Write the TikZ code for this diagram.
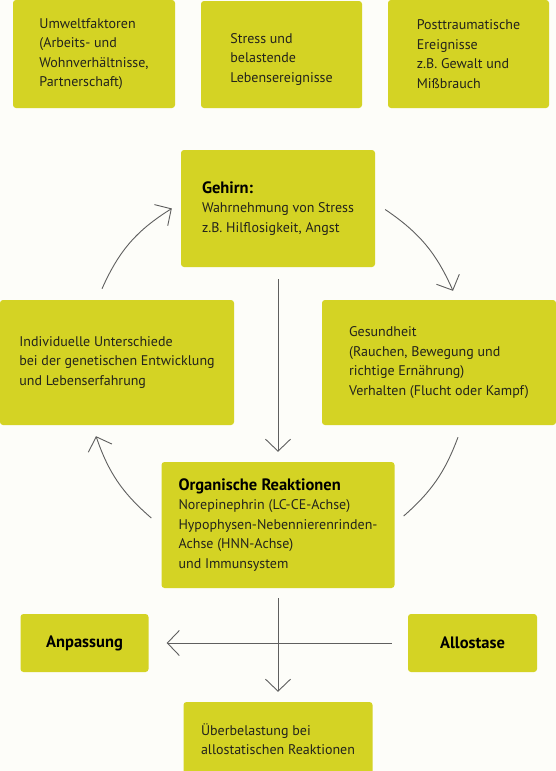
\documentclass[tikz,border=0pt]{standalone}
\usepackage{fontspec}
\setmainfont{PT Sans}
\usetikzlibrary{arrows.meta}

\definecolor{gelbgruen}{RGB}{212,211,36}
\definecolor{schrift}{RGB}{35,35,28}
\definecolor{linie}{RGB}{95,95,95}
\definecolor{papier}{RGB}{253,253,249}

\newcommand{\kopf}[1]{{\fontsize{16.5}{19}\selectfont\bfseries\color{black}#1}}

\begin{document}
\begin{tikzpicture}[x=1pt, y=-1pt,
    every node/.style={font=\fontsize{14}{19.5}\selectfont, text=schrift},
    kasten/.style={fill=gelbgruen, rounded corners=3pt, align=left, inner sep=0pt},
    pfeil/.style={draw=linie, line width=0.9pt, -{Straight Barb[length=12pt,width=25pt]}},
    bogen/.style={draw=linie, line width=0.9pt}]
    \path[use as bounding box, fill=papier] (0,0) rectangle (556,771);

    % Obere Reihe
    \node[kasten, minimum width=162pt, minimum height=108pt] (umwelt) at (94,54)
        {Umweltfaktoren\\(Arbeits- und\\Wohnverhältnisse,\\Partnerschaft)};
    \node[kasten, minimum width=161pt, minimum height=107pt] (stress) at (281.5,54.5)
        {\mbox{}\\Stress und\\belastende\\Lebensereignisse};
    \node[kasten, minimum width=161pt, minimum height=108pt] (trauma) at (468.5,54)
        {Posttraumatische\\Ereignisse\\z.B. Gewalt und\\Mißbrauch};

    % Kreislauf
    \node[kasten, minimum width=194pt, minimum height=117pt] (gehirn) at (278,208.5)
        {\kopf{Gehirn:}\\Wahrnehmung von Stress\\z.B. Hilflosigkeit, Angst};
    \node[kasten, minimum width=234pt, minimum height=125pt] (indiv) at (117,362.5)
        {Individuelle Unterschiede\\bei der genetischen Entwicklung\\und Lebenserfahrung};
    \node[kasten, minimum width=234pt, minimum height=125pt] (gesund) at (439,362.5)
        {Gesundheit\\(Rauchen, Bewegung und\\richtige Ernährung)\\Verhalten (Flucht oder Kampf)};
    \node[kasten, minimum width=233pt, minimum height=126pt] (organ) at (278,525)
        {\kopf{Organische Reaktionen}\\Norepinephrin (LC-CE-Achse)\\Hypophysen-Nebennierenrinden-\\Achse (HNN-Achse)\\und Immunsystem};

    % Untere Reihe
    \node[kasten, minimum width=128pt, minimum height=58pt] (anpass) at (84.5,643) {\kopf{Anpassung}};
    \node[kasten, minimum width=129pt, minimum height=58pt] (allo) at (472.5,643) {\kopf{Allostase}};
    \node[kasten, minimum width=189pt, minimum height=74pt] (ueber) at (278,739)
        {Überbelastung bei\\allostatischen Reaktionen};

    % Pfeile
    \draw[pfeil, shorten <=12pt, shorten >=10pt] (gehirn) -- (organ);
    \draw[pfeil, shorten <=10pt, shorten >=10pt] (organ) -- (ueber);
    \draw[pfeil, shorten <=16pt, shorten >=18pt] (allo) -- (anpass);

    \draw[pfeil] ([shift={(-15,-11)}]indiv.north) to[bend left=17] ([shift={(-9,0)}]gehirn.west);
    \draw[pfeil] ([shift={(10,1)}]gehirn.east) to[bend left=16] ([shift={(14,-9)}]gesund.north);
    \draw[bogen] ([shift={(19,12)}]gesund.south) to[bend left=14] ([shift={(9,-9)}]organ.east);
    \draw[pfeil] ([shift={(-10,-7)}]organ.west) to[bend left=15] ([shift={(-21,11)}]indiv.south);
\end{tikzpicture}
\end{document}
